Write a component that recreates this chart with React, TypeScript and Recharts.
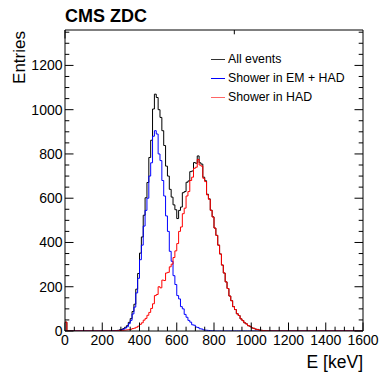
import React from 'react';
import { LineChart, Line, XAxis, YAxis } from 'recharts';

// 10 keV bins, left edges from 250 keV
const binStart = 250;
const binWidth = 10;

const allEvents = [
  0, 1, 2, 3, 5, 7, 11, 17, 24, 39, 56, 88, 121, 189, 260, 352, 425, 523, 602, 671,
  784, 862, 1003, 1070, 1055, 1000, 965, 905, 838, 745, 700, 640, 605, 570, 548, 508, 545, 560, 625, 630,
  672, 678, 720, 723, 761, 758, 791, 760, 754, 695, 679, 618, 597, 546, 516, 465, 432, 388, 348, 298,
  262, 222, 192, 158, 137, 110, 97, 78, 70, 55, 47, 37, 32, 24, 21, 14, 12, 8, 7, 4,
  3, 2, 1, 1, 0,
];

const showerEmHad = [
  0, 1, 1, 2, 3, 5, 8, 13, 19, 33, 48, 77, 108, 172, 238, 322, 388, 474, 545, 600,
  700, 760, 880, 905, 890, 800, 770, 680, 610, 520, 450, 360, 315, 250, 210, 160, 145, 110, 100, 75,
  62, 48, 40, 28, 26, 18, 16, 10, 9, 5, 4, 3, 2, 1, 1, 0, 0, 0, 0, 0,
  0, 0, 0, 0, 0, 0, 0, 0, 0, 0, 0, 0, 0, 0, 0, 0, 0, 0, 0, 0,
  0, 0, 0, 0, 0,
];

const showerHad = [
  0, 0, 1, 1, 2, 2, 3, 4, 5, 6, 8, 11, 13, 17, 22, 30, 37, 49, 57, 71,
  84, 102, 123, 160, 165, 200, 195, 230, 228, 262, 265, 290, 302, 332, 362, 395, 450, 470, 530, 555,
  610, 630, 680, 695, 735, 740, 775, 750, 745, 690, 675, 615, 595, 545, 515, 465, 432, 388, 348, 298,
  262, 222, 192, 158, 137, 110, 97, 78, 70, 55, 47, 37, 32, 24, 21, 14, 12, 8, 7, 4,
  3, 2, 1, 1, 0,
];

// small spike in the first bin (0-10 keV)
const firstBin = { all: 40, em: 0, had: 40 };

const xTicks = Array.from({ length: 33 }, (_, i) => i * 50);
const yTicks = Array.from({ length: 28 }, (_, i) => i * 50);

const data = [
  { e: 0, ...firstBin },
  { e: binWidth, all: 0, em: 0, had: 0 },
  ...allEvents.map((v, i) => ({
    e: binStart + i * binWidth,
    all: v,
    em: showerEmHad[i],
    had: showerHad[i],
  })),
  { e: binStart + allEvents.length * binWidth, all: 0, em: 0, had: 0 },
  { e: 1600, all: 0, em: 0, had: 0 },
];

const FONT = '"Liberation Sans", Arial, Helvetica, sans-serif';
const MAJOR = 8.5;
const MINOR = 4.3;

const BottomTick = ({ x, y, payload }: any) => {
  const major = payload.value % 200 === 0;
  return (
    <g>
      <line x1={x} y1={y} x2={x} y2={y - (major ? MAJOR : MINOR)} stroke="#000" />
      {major && (
        <text x={x} y={y + 14} textAnchor="middle" fontSize={14} fontFamily={FONT} fill="#000">
          {payload.value}
        </text>
      )}
    </g>
  );
};

const TopTick = ({ x, y, payload }: any) => {
  const major = payload.value % 200 === 0;
  return <line x1={x} y1={y} x2={x} y2={y + (major ? MAJOR : MINOR)} stroke="#000" />;
};

const LeftTick = ({ x, y, payload }: any) => {
  const major = payload.value % 200 === 0;
  return (
    <g>
      <line x1={x} y1={y} x2={x + (major ? MAJOR : MINOR)} y2={y} stroke="#000" />
      {major && (
        <text x={x - 2.5} y={y} dy="0.35em" textAnchor="end" fontSize={14} fontFamily={FONT} fill="#000">
          {payload.value}
        </text>
      )}
    </g>
  );
};

const RightTick = ({ x, y, payload }: any) => {
  const major = payload.value % 200 === 0;
  return <line x1={x} y1={y} x2={x - (major ? MAJOR : MINOR)} y2={y} stroke="#000" />;
};

const legendItems = [
  { name: 'All events', color: '#333333' },
  { name: 'Shower in EM + HAD', color: '#0000ff' },
  { name: 'Shower in HAD', color: '#ff6666' },
];

const axisCommon = {
  type: 'number' as const,
  interval: 0 as const,
  tickSize: 0,
  tickMargin: 0,
  tickLine: false,
  axisLine: { stroke: '#000' },
  allowDataOverflow: true,
};

export default function App() {
  return (
    <div style={{ position: 'fixed', left: 0, top: 0, width: 381, height: 373, background: '#fff' }}>
      <LineChart width={381} height={373} data={data} margin={{ top: 0, right: 0, bottom: 0, left: 0 }}>
        <XAxis {...axisCommon} dataKey="e" domain={[0, 1600]} ticks={xTicks} height={42} tick={<BottomTick />} />
        <XAxis {...axisCommon} xAxisId="top" orientation="top" domain={[0, 1600]} ticks={xTicks} height={30} tick={<TopTick />} />
        <YAxis {...axisCommon} domain={[0, 1360]} ticks={yTicks} width={65} tick={<LeftTick />} />
        <YAxis {...axisCommon} yAxisId="right" orientation="right" domain={[0, 1360]} ticks={yTicks} width={18} tick={<RightTick />} />
        <Line type="stepAfter" dataKey="all" stroke="#000" strokeWidth={1} dot={false} activeDot={false} isAnimationActive={false} />
        <Line type="stepAfter" dataKey="em" stroke="#0000ff" strokeWidth={1} dot={false} activeDot={false} isAnimationActive={false} />
        <Line type="stepAfter" dataKey="had" stroke="#ff0000" strokeWidth={1} dot={false} activeDot={false} isAnimationActive={false} />
      </LineChart>
      <div style={{ position: 'absolute', left: 211, top: 50, fontFamily: FONT, fontSize: 12.3, color: '#000' }}>
        {legendItems.map((it) => (
          <div key={it.name} style={{ height: 19, lineHeight: '19px', display: 'flex', alignItems: 'center', whiteSpace: 'nowrap' }}>
            <span style={{ width: 14, height: 0, borderTop: `1.5px solid ${it.color}`, marginRight: 3 }} />
            <span>{it.name}</span>
          </div>
        ))}
      </div>
      <svg width={381} height={373} style={{ position: 'absolute', left: 0, top: 0, pointerEvents: 'none' }}>
        <text x={65} y={21.5} fontFamily={FONT} fontWeight="bold" fontSize={18} fill="#000">
          CMS ZDC
        </text>
        <text x={25} y={31} transform="rotate(-90 25 31)" textAnchor="end" fontFamily={FONT} fontSize={17} fill="#000">
          Entries
        </text>
        <text x={363} y={368} textAnchor="end" fontFamily={FONT} fontSize={17.5} fill="#000">
          E [keV]
        </text>
      </svg>
    </div>
  );
}
